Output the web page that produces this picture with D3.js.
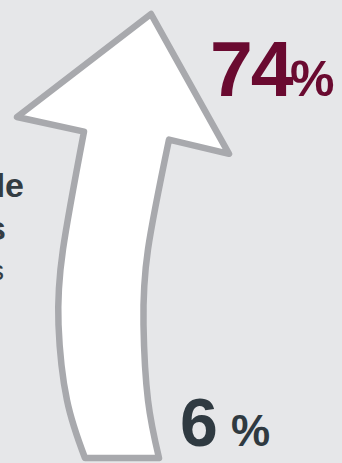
<!DOCTYPE html>
<html>
<head>
<meta charset="utf-8">
<script src="https://cdn.jsdelivr.net/npm/d3@7/dist/d3.min.js"></script>
<style>
  html, body { margin: 0; padding: 0; background: #e6e7e9; }
  svg { display: block; font-family: "Liberation Sans", Arial, Helvetica, sans-serif; }
</style>
</head>
<body>
<script>
// Share at the start and at the end of the period
const stages = ["start", "end"];
const shares = [6, 74];
const shareLabels = ["6", "74"];
const unit = "%";
// Fragments of the side caption
const captionLines = ["le", "s", "s"];

const W = 342, H = 463;
const svg = d3.select("body").append("svg")
  .attr("width", W).attr("height", H);

svg.append("rect").attr("width", W).attr("height", H).attr("fill", "#e6e7e9");

// Vertical scale: the arrow runs from the start share (base) to the end share (tip)
const y = d3.scaleLinear()
  .domain(d3.extent(shares))
  .range([458, 14]);

const yBase = y(shares[0]);
const yTip = y(shares[1]);
const span = yBase - yTip;
const at = f => yTip + f * span;   // fraction along the arrow, 0 = tip

// Curved shaft edges, listed from the base upward
const leftEdge = [
  [85, at(1.0)], [67, at(0.87)], [58.5, at(0.70)], [63, at(0.53)], [84, at(0.265)]
];
const rightEdge = [
  [169, at(0.283)], [148, at(0.53)], [143.5, at(0.70)], [148, at(0.87)], [159, at(1.0)]
];
const head = [[17, at(0.232)], [151, at(0.0)], [229, at(0.315)]];

const edge = d3.line().curve(d3.curveNatural);
const leftPath = edge(leftEdge);
const rightPath = edge(rightEdge).replace(/^M/, "L");
const headPath = head.map(p => "L" + p[0] + "," + p[1]).join("");

svg.append("path")
  .attr("d", leftPath + headPath + rightPath + "Z")
  .attr("fill", "#ffffff")
  .attr("stroke", "#a8a9ad")
  .attr("stroke-width", 6.5)
  .attr("stroke-linejoin", "round");

// Value labels
function valueLabel(x, baseline, text, size, pctSize, pctX, color) {
  const g = svg.append("g").attr("fill", color);
  g.append("text")
    .attr("x", x).attr("y", baseline)
    .attr("font-size", size).attr("font-weight", "bold")
    .attr("letter-spacing", -2)
    .text(text);
  g.append("text")
    .attr("x", pctX).attr("y", baseline)
    .attr("font-size", pctSize).attr("font-weight", "bold")
    .text(unit);
}

valueLabel(210, y(shares[1]) + 82, shareLabels[1], 77, 50, 290, "#6a0a30");
valueLabel(180, y(shares[0]) - 12, shareLabels[0], 68, 44, 231, "#2f3a41");

// Side caption, running off the left edge
const caption = svg.append("g").attr("fill", "#333c42").attr("text-anchor", "end");
caption.append("text").attr("x", 24).attr("y", 197)
  .attr("font-size", 34).attr("font-weight", "bold").text(captionLines[0]);
caption.append("text").attr("x", 6).attr("y", 240)
  .attr("font-size", 34).attr("font-weight", "bold").text(captionLines[1]);
caption.append("text").attr("x", 4).attr("y", 280)
  .attr("font-size", 28).text(captionLines[2]);
</script>
</body>
</html>
